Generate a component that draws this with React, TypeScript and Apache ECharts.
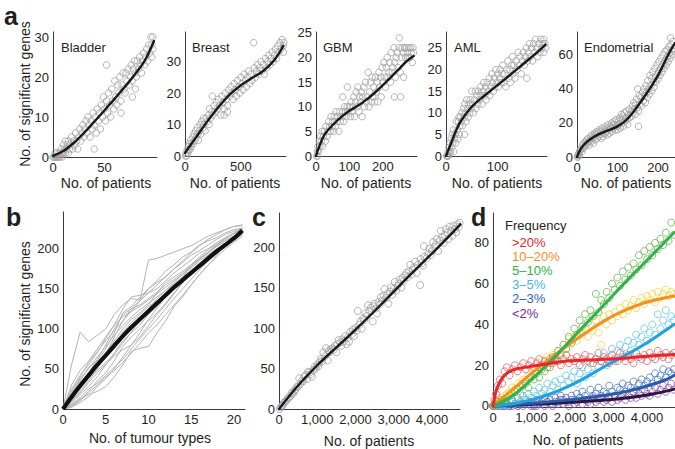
import React, { useEffect, useRef } from "react";
import * as echarts from "echarts";

type Pt = [number, number];

const FONT = '"Liberation Sans", Arial, Helvetica, sans-serif';
const TXT = "#231f20";
const AX = "#3a3a3a";
const GRAY = "#a0a0a0";

// ---------- panel a ----------
const bladderPts: Pt[] = [[0,0],[1,0],[2,0],[2,1],[3,0],[4,0],[4,1],[5,0],[6,1],[6,0],[7,0],[8,1],[8,2],[9,0],[10,1],[10,3],[11,2],[12,1],[12,4],[13,2],[14,3],[15,1],[15,4],[16,2],[17,3],[18,5],[19,2],[20,4],[21,3],[22,6],[23,4],[24,2],[25,5],[26,7],[27,4],[28,6],[29,8],[30,5],[31,7],[32,9],[33,6],[34,10],[35,8],[36,5],[37,9],[38,7],[39,11],[40,2],[40,8],[41,10],[42,6],[43,12],[44,9],[45,11],[46,7],[47,13],[48,10],[49,15],[50,12],[51,9],[52,23],[52,14],[53,11],[54,16],[55,13],[56,10],[57,17],[58,14],[59,12],[60,19],[61,15],[62,13],[63,18],[64,16],[65,20],[66,11],[66,14],[67,18],[68,21],[69,17],[70,16],[71,21],[72,19],[73,22],[74,18],[75,20],[76,23],[77,15],[77,19],[78,22],[79,24],[80,17],[80,21],[81,20],[82,24],[83,22],[84,25],[85,23],[86,21],[87,24],[88,26],[89,23],[90,25],[91,27],[92,24],[93,28],[94,26],[95,30],[96,28],[97,30],[97,27],[96,25]];
const bladderFit: Pt[] = [[0,0.3],[10,1.5],[20,3.5],[30,6],[40,8.8],[50,11.7],[60,14.6],[70,17.6],[80,20.8],[90,24.5],[98,29]];

const breastPts: Pt[] = [[5,0],[10,1],[15,0],[20,2],[25,1],[30,3],[35,2],[40,4],[45,2],[50,5],[55,3],[60,4],[70,6],[75,4],[80,7],[90,5],[95,8],[100,6],[110,9],[115,7],[120,5],[130,8],[135,10],[140,7],[150,11],[160,9],[165,12],[170,10],[180,8],[190,12],[200,11],[210,13],[215,10],[220,15],[230,12],[240,14],[245,19],[250,13],[260,16],[270,14],[280,17],[290,15],[300,18],[310,16],[320,13],[330,19],[340,17],[350,13],[350,15],[360,20],[370,18],[380,14],[380,16],[390,21],[400,19],[410,22],[420,20],[430,18],[440,23],[450,21],[460,19],[470,24],[480,22],[490,20],[500,25],[510,23],[520,21],[530,26],[540,24],[550,22],[560,25],[570,27],[580,23],[590,26],[600,24],[614,36],[620,28],[630,25],[640,27],[650,29],[660,26],[670,28],[680,30],[690,27],[700,29],[710,26],[720,31],[730,28],[740,30],[750,32],[760,29],[770,31],[780,33],[790,30],[800,32],[810,34],[820,31],[830,35],[840,33],[850,36],[860,34],[870,37],[880,35],[885,36],[880,33]];
const breastFit: Pt[] = [[0,1],[100,6],[200,11],[300,15.6],[400,19.5],[500,22.5],[600,24.8],[700,27],[800,30.5],[880,35]];

const gbmPts: Pt[] = [[2,0],[4,1],[5,0],[6,2],[8,1],[10,3],[12,2],[14,4],[16,3],[18,5],[20,2],[22,4],[25,5],[28,3],[30,6],[33,4],[35,5],[38,7],[40,6],[43,5],[45,8],[48,6],[50,7],[53,5],[55,8],[58,6],[60,9],[63,7],[65,8],[68,5],[70,9],[73,7],[80,12],[78,8],[80,9],[83,7],[85,10],[88,9],[90,8],[93,10],[94,14],[95,9],[100,10],[103,8],[105,11],[108,9],[110,10],[113,12],[115,8],[118,11],[120,13],[123,10],[125,14],[128,9],[130,12],[133,11],[135,13],[138,8],[140,12],[143,14],[145,10],[148,15],[150,11],[153,12],[156,17],[158,10],[160,13],[163,15],[165,11],[168,16],[170,12],[173,14],[175,11],[178,16],[180,13],[183,15],[185,11],[188,17],[190,14],[193,16],[195,12],[198,18],[200,15],[203,19],[205,16],[208,14],[210,18],[213,20],[215,16],[218,17],[220,19],[223,15],[225,21],[228,17],[230,18],[233,22],[234,12],[235,19],[238,16],[240,20],[243,21],[245,18],[248,22],[249,24],[252,17],[253,12],[255,20],[258,22],[260,21],[262,16],[265,22],[268,20],[270,22],[273,21],[275,20],[278,22],[280,20],[283,22],[285,21],[288,19],[290,22],[292,21]];
const gbmFit: Pt[] = [[0,0],[10,2],[25,4.3],[50,6.3],[75,7.9],[100,9.2],[125,10.2],[150,11.4],[175,12.8],[200,14.4],[225,16.1],[250,17.8],[270,19.2],[292,20.3]];

const amlPts: Pt[] = [[1,0],[2,0],[3,0],[4,1],[5,0],[6,2],[7,1],[8,3],[9,1],[10,4],[11,2],[12,5],[13,3],[14,6],[15,1],[16,4],[18,5],[19,3],[20,8],[22,6],[23,4],[24,8],[25,9],[26,5],[27,7],[28,9],[30,8],[31,10],[32,7],[34,11],[35,9],[36,5],[36,12],[38,10],[39,8],[40,13],[42,11],[43,9],[45,12],[46,10],[47,13],[49,11],[50,15],[52,12],[53,10],[55,13],[57,15],[58,11],[60,14],[62,12],[63,15],[65,13],[67,16],[68,14],[70,12],[72,15],[73,17],[75,14],[77,16],[78,13],[80,17],[82,15],[84,18],[85,14],[87,16],[89,19],[90,17],[92,15],[94,18],[95,16],[97,20],[99,17],[100,19],[102,16],[104,18],[105,20],[107,17],[109,19],[110,21],[112,17],[114,19],[116,16],[118,20],[120,22],[122,18],[124,20],[125,17],[127,21],[129,23],[130,19],[132,21],[134,18],[136,22],[138,20],[140,24],[142,21],[144,23],[146,19],[148,22],[150,24],[152,21],[154,23],[156,25],[157,18],[158,22],[160,24],[162,26],[164,23],[166,25],[168,22],[170,26],[172,24],[174,27],[176,25],[178,23],[180,26],[182,24],[184,27],[186,25],[188,26],[190,24],[192,26],[193,25],[190,27]];
const amlFit: Pt[] = [[0,0],[5,1.5],[10,3],[20,6],[30,8.3],[50,11.4],[75,14],[100,16.4],[125,18.8],[150,21.3],[175,23.8],[193,25.8]];

const endoPts: Pt[] = [[1,0],[2,1],[3,0],[4,2],[5,1],[6,3],[8,4],[10,5],[12,3],[14,7],[15,5],[17,8],[19,6],[20,9],[22,7],[24,10],[25,8],[27,11],[29,9],[30,7],[32,10],[34,12],[35,9],[37,13],[39,11],[40,8],[42,12],[44,14],[45,10],[47,13],[49,15],[50,11],[52,14],[54,12],[55,16],[57,13],[59,15],[60,11],[62,17],[64,14],[65,12],[67,16],[69,18],[70,14],[72,15],[74,17],[75,13],[77,19],[79,16],[80,14],[82,18],[84,17],[85,20],[87,15],[89,19],[90,17],[92,21],[94,16],[95,19],[97,22],[99,18],[100,16],[102,21],[104,19],[105,23],[107,17],[109,22],[110,25],[112,20],[114,24],[115,18],[117,26],[119,21],[120,23],[122,27],[124,22],[125,19],[127,25],[129,28],[130,23],[134,27],[135,24],[137,30],[139,26],[140,32],[142,28],[144,25],[145,31],[147,34],[149,29],[150,40],[152,18],[152,27],[154,36],[155,31],[158,35],[160,30],[162,38],[164,33],[165,40],[167,36],[169,32],[170,42],[172,38],[174,35],[175,45],[177,40],[179,37],[180,48],[182,42],[184,46],[185,39],[187,50],[189,44],[190,41],[192,52],[194,47],[195,44],[197,54],[199,49],[200,46],[202,56],[204,51],[205,48],[207,58],[209,53],[210,50],[212,60],[214,55],[215,52],[217,62],[219,57],[220,54],[222,63],[224,59],[225,56],[227,65],[229,61],[230,58],[231,70],[232,66],[234,63],[235,60],[237,68],[239,64],[240,62]];
const endoFit: Pt[] = [[0,0],[10,5],[25,9],[50,13],[75,15.5],[100,18],[125,22.5],[150,30],[175,38.5],[200,48],[225,60],[242,67]];

const panelNames = ["Bladder", "Breast", "GBM", "AML", "Endometrial"];
const aXTicks = [[0, 50], [0, 500], [0, 100, 200], [0, 100], [0, 100, 200]];
const aYTicks = [[0, 10, 20, 30], [0, 10, 20, 30], [0, 5, 10, 15, 20, 25], [0, 5, 10, 15, 20, 25], [0, 20, 40, 60]];

// ---------- panel b ----------
const bTypes = [0,1,2,3,4,5,6,7,8,9,10,11,12,13,14,15,16,17,18,19,20,21];
const bMean = [0,15,29,42,55,67,79,91,102,112,122,132,142,152,161,170,179,188,197,205,213,223];
const bLines: number[][] = [
  [0,55,96,84,92,100,118,130,138,136,150,160,172,180,190,196,205,210,214,220,224,226],
  [0,10,22,35,50,68,90,110,126,135,186,188,192,196,200,204,210,216,220,224,228,229],
  [0,5,12,18,22,28,40,55,72,76,78,95,110,128,140,155,168,180,192,205,215,222],
  [0,20,35,52,60,75,95,120,128,140,150,158,165,175,183,192,198,205,212,218,222,225],
  [0,8,18,28,40,55,70,85,95,105,118,128,140,150,160,168,178,185,195,203,212,220],
  [0,15,30,45,62,80,100,118,125,130,138,146,155,162,170,180,188,196,204,210,216,222],
  [0,3,10,22,35,45,60,78,90,100,110,120,132,145,158,170,180,190,198,205,212,218],
  [0,25,42,55,70,88,105,125,140,142,145,150,160,170,178,186,195,200,208,214,220,226],
  [0,12,25,38,48,58,68,82,96,110,125,138,148,158,168,176,185,193,200,207,214,221],
  [0,6,14,25,32,42,52,62,75,88,100,112,125,138,150,162,174,185,194,203,211,219],
  [0,18,38,50,65,78,92,104,115,124,132,140,148,156,165,173,182,190,198,206,214,223],
  [0,2,8,15,28,38,50,65,80,95,112,126,140,152,165,178,188,196,205,212,219,225],
  [0,10,28,45,55,70,85,100,112,120,130,145,158,165,172,180,190,199,206,213,219,224],
  [0,22,40,58,72,85,98,110,122,135,145,155,165,175,185,195,204,212,218,224,228,230],
  [0,4,12,20,30,40,48,58,70,82,95,105,118,130,142,155,168,180,190,200,208,216],
  [0,14,26,40,54,66,82,96,108,118,128,135,145,155,163,172,180,188,196,204,212,220],
  [0,30,48,60,75,90,105,115,122,128,136,144,152,160,168,178,187,195,203,210,216,222],
  [0,8,20,33,45,56,66,74,80,90,104,118,130,144,158,170,182,192,200,207,213,218],
];

// ---------- panel c ----------
const cPts: Pt[] = [[20,0],[50,2],[80,4],[100,5],[130,8],[160,9],[200,11],[230,13],[260,14],[300,16],[330,20],[360,19],[400,22],[430,24],[460,27],[500,28],[530,38],[560,31],[600,35],[630,34],[660,40],[700,42],[730,37],[760,46],[800,45],[830,43],[860,40],[900,48],[930,52],[960,50],[1000,55],[1030,53],[1060,58],[1100,62],[1130,59],[1160,70],[1200,65],[1230,75],[1270,60],[1300,72],[1330,70],[1360,74],[1400,75],[1430,73],[1460,78],[1500,70],[1530,80],[1560,85],[1600,82],[1630,78],[1660,86],[1700,84],[1730,90],[1760,80],[1800,88],[1830,83],[1860,95],[1900,92],[1930,98],[1960,90],[2000,100],[2030,97],[2060,121],[2100,104],[2130,108],[2160,99],[2200,112],[2230,110],[2260,118],[2300,115],[2330,128],[2360,121],[2400,125],[2450,108],[2460,127],[2500,130],[2530,124],[2560,118],[2600,132],[2630,129],[2660,138],[2700,134],[2730,140],[2760,148],[2800,137],[2830,142],[2860,130],[2900,145],[2930,150],[2960,141],[3000,148],[3030,157],[3060,146],[3100,152],[3130,155],[3160,160],[3200,150],[3230,162],[3260,158],[3300,165],[3330,168],[3360,163],[3400,170],[3430,178],[3460,166],[3500,172],[3530,175],[3560,182],[3600,168],[3630,178],[3690,153],[3700,185],[3730,180],[3760,177],[3790,201],[3800,188],[3860,186],[3900,192],[3930,198],[3960,190],[4000,195],[4030,206],[4060,200],[4100,203],[4130,210],[4160,195],[4200,208],[4230,220],[4260,212],[4300,205],[4330,215],[4360,222],[4400,218],[4430,210],[4460,225],[4500,220],[4530,214],[4560,226],[4600,222],[4630,218],[4660,228],[4700,225],[4720,230],[4740,227]];
const cFit: Pt[] = [[0,0],[500,29],[1000,54],[1500,76],[2000,98],[2500,121],[3000,145],[3500,169],[4000,192],[4500,216],[4740,228]];

// ---------- panel d ----------
const dX = [0,40,80,130,180,240,300,360,430,500,570,640,710,780,850,920,990,1060,1130,1200,1270,1340,1410,1480,1550,1620,1690,1760,1830,1900,1970,2040,2110,2180,2250,2320,2390,2460,2530,2600,2670,2740,2810,2880,2950,3020,3090,3160,3230,3300,3370,3440,3510,3580,3650,3720,3790,3860,3930,4000,4070,4140,4210,4280,4350,4420,4490,4560,4630,4700];
const dRed = [0,3,6,10,13,11,17,19,15,18,20,17,19,21,18,20,22,19,21,23,20,22,19,23,21,24,22,20,23,25,21,23,22,24,20,23,25,22,24,21,23,26,22,24,23,21,25,23,22,26,24,22,25,23,21,26,24,23,25,22,26,24,23,27,25,24,26,23,25,26];
const dYellow = [0,0,1,2,3,4,5,6,7,9,8,11,10,13,12,15,14,17,16,19,22,20,24,21,25,23,27,26,30,28,33,31,34,32,36,35,38,34,40,37,42,36,30,44,40,45,42,46,44,48,45,50,47,49,52,48,51,53,50,54,52,55,51,56,53,55,57,54,56,55];
const dGreen = [0,1,0,2,1,3,2,4,5,3,7,8,6,10,11,9,14,13,16,14,18,17,21,19,24,22,27,25,30,28,34,31,38,35,42,39,45,41,47,44,55,46,52,50,56,53,60,57,63,59,66,62,68,64,70,67,74,69,76,72,78,74,80,77,82,79,85,81,90,84];
const dCyan = [0,0,1,0,1,2,1,0,2,3,1,4,2,5,3,6,4,7,5,9,6,8,11,7,10,12,8,13,10,15,12,14,17,11,16,19,14,18,21,16,23,19,22,26,20,24,28,22,27,30,25,29,32,27,31,35,30,34,38,32,36,40,35,45,38,42,47,40,44,42];
const dBlue = [0,0,0,1,0,1,0,1,0,2,1,0,2,1,3,1,2,0,3,1,2,4,2,3,1,4,2,5,3,4,2,5,3,6,4,7,5,3,8,5,6,9,4,7,6,10,7,5,9,8,11,7,10,9,12,8,11,13,10,12,14,11,16,13,15,18,14,17,16,18];
const dPurple = [0,0,0,0,1,0,0,1,0,0,1,0,1,0,1,2,0,1,0,2,1,0,2,1,0,2,1,3,1,2,0,3,1,2,4,1,3,2,1,4,2,3,5,2,3,4,2,5,3,4,6,3,5,4,7,4,6,5,8,6,5,7,9,6,8,10,7,9,11,8];

const fitRed: Pt[] = [[0,0],[50,5],[100,8.5],[200,12.5],[300,15],[500,17.6],[750,18.7],[1000,19.5],[1500,21],[2000,22.2],[2500,22.6],[3000,23],[3500,23.6],[4000,24.4],[4700,25.3]];
const fitOrange: Pt[] = [[0,0],[500,8],[1000,16],[1500,23.5],[2000,30.5],[2500,37],[3000,43],[3500,47.5],[4000,51],[4700,54]];
const fitGreen: Pt[] = [[0,0],[500,5],[1000,13],[1500,22],[2000,32],[2500,42],[3000,52],[3500,62],[4000,71.5],[4700,85]];
const fitCyan: Pt[] = [[0,0],[500,1],[1000,3],[1500,6],[2000,10],[2500,15],[3000,20.5],[3500,25.5],[4000,31],[4700,40]];
const fitBlue: Pt[] = [[0,0],[1000,1.3],[2000,3],[3000,5.5],[3500,7.3],[4000,9.8],[4500,13],[4700,15]];
const fitPurple: Pt[] = [[0,0],[1000,0.8],[2000,1.8],[3000,3],[3500,4],[4000,5.4],[4500,7.3],[4700,8.3]];

const freqLabels = [">20%", "10\u201320%", "5\u201310%", "3\u20135%", "2\u20133%", "<2%"];
const cXTicks = [0, 1000, 2000, 3000, 4000];

function pairs(xs: number[], ys: number[]): Pt[] {
  const n = Math.min(xs.length, ys.length);
  const out: Pt[] = [];
  for (let i = 0; i < n; i++) out.push([xs[i], ys[i]]);
  return out;
}

const comma = (v: number) => (v === 0 ? "0" : Math.round(v).toLocaleString("en-US"));

function valAxis(gridIndex: number, min: number, max: number, ticks: number[], fmt?: (v: number) => string) {
  return {
    type: "value",
    gridIndex,
    min,
    max,
    axisLine: { show: true, onZero: false, lineStyle: { color: AX, width: 1 } },
    axisTick: { show: false },
    splitLine: { show: false },
    axisLabel: {
      customValues: ticks,
      color: TXT,
      fontSize: 13,
      fontFamily: FONT,
      margin: 4,
      formatter: fmt || ((v: number) => String(v)),
    },
  };
}

function buildOption() {
  const grids = [
    { left: 53, top: 32, width: 104, height: 125 },
    { left: 185, top: 32, width: 101, height: 124 },
    { left: 316, top: 32, width: 101, height: 124 },
    { left: 446, top: 32, width: 101, height: 124 },
    { left: 577, top: 32, width: 98, height: 125 },
    { left: 63, top: 212, width: 182, height: 197 },
    { left: 279, top: 213, width: 181, height: 196 },
    { left: 493, top: 213, width: 182, height: 194 },
  ];
  const xRanges = [[0, 101], [0, 904], [0, 302], [0, 196], [0, 242]];
  const yRanges = [[0, 31.25], [0, 39.4], [0, 25.2], [0, 28.7], [0, 73.5]];

  const xAxes: any[] = [];
  const yAxes: any[] = [];
  for (let i = 0; i < 5; i++) {
    xAxes.push(valAxis(i, xRanges[i][0], xRanges[i][1], aXTicks[i]));
    yAxes.push(valAxis(i, yRanges[i][0], yRanges[i][1], aYTicks[i]));
  }
  xAxes.push(valAxis(5, 0, 21.3, [0, 5, 10, 15, 20]));
  yAxes.push(valAxis(5, 0, 246, [0, 50, 100, 150, 200]));
  xAxes.push(valAxis(6, 0, 4732, cXTicks, comma));
  yAxes.push(valAxis(6, 0, 242, [0, 50, 100, 150, 200]));
  xAxes.push(valAxis(7, 0, 4727, cXTicks, comma));
  yAxes.push(valAxis(7, -0.5, 94.7, [0, 20, 40, 60, 80]));

  const series: any[] = [];
  const scatter = (i: number, data: Pt[], color: string, size: number, z = 2) => ({
    type: "scatter", xAxisIndex: i, yAxisIndex: i, data, symbol: "circle", symbolSize: size,
    itemStyle: { color: "rgba(255,255,255,0)", borderColor: color, borderWidth: 1 }, silent: true, z,
  });
  const line = (i: number, data: Pt[], color: string, width: number, z = 5) => ({
    type: "line", xAxisIndex: i, yAxisIndex: i, data, smooth: 0.35, showSymbol: false, symbol: "none",
    lineStyle: { color, width, cap: "round" }, silent: true, z,
  });

  const aPts = [bladderPts, breastPts, gbmPts, amlPts, endoPts];
  const aFits = [bladderFit, breastFit, gbmFit, amlFit, endoFit];
  for (let i = 0; i < 5; i++) {
    series.push(scatter(i, aPts[i], GRAY, 6.5));
    series.push(line(i, aFits[i], "#1a1a1a", 2.4));
  }

  bLines.forEach((ys) => {
    series.push({
      type: "line", xAxisIndex: 5, yAxisIndex: 5, data: pairs(bTypes, ys), showSymbol: false, symbol: "none",
      lineStyle: { color: "#b3b3b3", width: 1 }, silent: true, z: 2,
    });
  });
  series.push({
    type: "line", xAxisIndex: 5, yAxisIndex: 5, data: pairs(bTypes, bMean), smooth: 0.3, showSymbol: false, symbol: "none",
    lineStyle: { color: "#111", width: 4.2 }, silent: true, z: 5,
  });

  series.push(scatter(6, cPts, GRAY, 7));
  series.push(line(6, cFit, "#1a1a1a", 2.4));

  const dSeries: [number[], string, Pt[], string][] = [
    [dPurple, "#8e4fae", fitPurple, "#2b1640"],
    [dBlue, "#4477c4", fitBlue, "#2a5aa8"],
    [dCyan, "#62c4ec", fitCyan, "#1fa3dc"],
    [dYellow, "#f2d546", fitOrange, "#f4901e"],
    [dGreen, "#5cb947", fitGreen, "#35b04a"],
    [dRed, "#ee5b5b", fitRed, "#e8262b"],
  ];
  dSeries.forEach(([ys, pc]) => series.push(scatter(7, pairs(dX, ys), pc, 7)));
  dSeries.forEach(([, , fit, lc]) => series.push(line(7, fit, lc, 3)));

  const txt = (text: string, x: number, y: number, o: any = {}) => ({
    type: "text", x, y, rotation: o.rotation || 0, silent: true, z: 100,
    style: {
      text, fill: o.fill || TXT, fontSize: o.size || 13, fontFamily: FONT, fontWeight: o.bold ? "bold" : "normal",
      align: o.align || "left", verticalAlign: o.va || "middle",
    },
  });

  const titleX = [61, 192, 323, 454, 584];
  const nameX = [106, 235, 366, 497, 626];
  const graphics: any[] = [];
  panelNames.forEach((n, i) => {
    graphics.push(txt(n, titleX[i], 47));
    graphics.push(txt("No. of patients", nameX[i], 183, { size: 14, align: "center" }));
  });
  graphics.push(txt("No. of significant genes", 25, 94, { size: 14, align: "center", rotation: Math.PI / 2 }));
  graphics.push(txt("No. of significant genes", 25, 314, { size: 14, align: "center", rotation: Math.PI / 2 }));
  graphics.push(txt("No. of tumour types", 150, 438, { size: 14, align: "center" }));
  graphics.push(txt("No. of patients", 369, 441, { size: 14, align: "center" }));
  graphics.push(txt("No. of patients", 578, 440, { size: 14, align: "center" }));

  graphics.push(txt("a", 4, 3, { size: 25, bold: true, va: "top" }));
  graphics.push(txt("b", 6, 204, { size: 25, bold: true, va: "top" }));
  graphics.push(txt("c", 252, 204, { size: 25, bold: true, va: "top" }));
  graphics.push(txt("d", 471, 204, { size: 25, bold: true, va: "top" }));

  graphics.push(txt("Frequency", 505, 225));
  const legendColors = ["#e8262b", "#f4901e", "#35b04a", "#3fb8ea", "#2f63b4", "#6a2e8e"];
  freqLabels.forEach((l, i) => {
    graphics.push(txt(l, 512, 242 + i * 14.2, { fill: legendColors[i] }));
  });

  return {
    animation: false,
    backgroundColor: "#ffffff",
    grid: grids,
    xAxis: xAxes,
    yAxis: yAxes,
    series,
    graphic: graphics,
  };
}

export default function App() {
  const ref = useRef<HTMLDivElement>(null);
  useEffect(() => {
    if (!ref.current) return;
    const chart = echarts.init(ref.current, null, { renderer: "svg" });
    chart.setOption(buildOption() as any);
    return () => chart.dispose();
  }, []);
  return (
    <div
      ref={ref}
      style={{ position: "fixed", left: 0, top: 0, width: 675, height: 449, background: "#fff" }}
    />
  );
}
